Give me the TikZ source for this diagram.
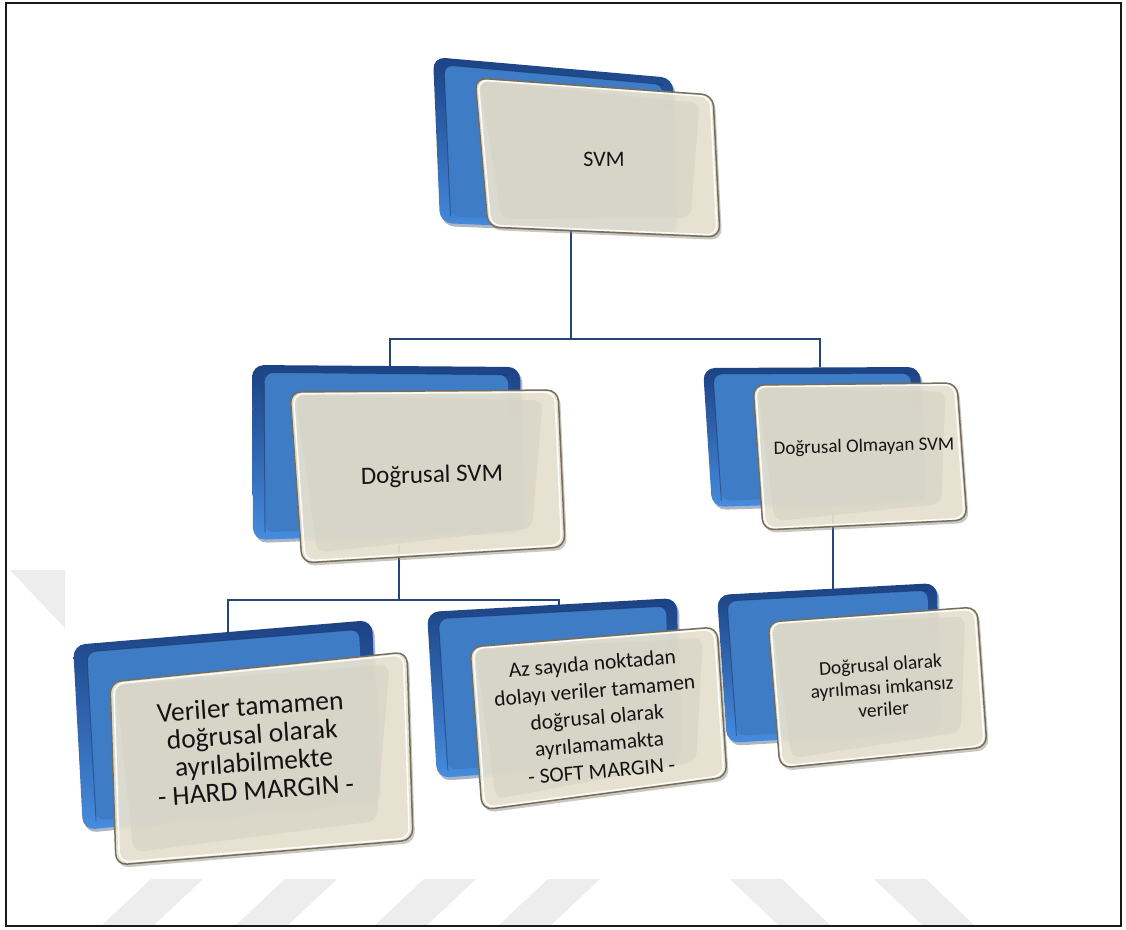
\documentclass[tikz,border=0pt]{standalone}
\usepackage{fontspec}
\setmainfont{Carlito}
\usetikzlibrary{calc}

\definecolor{wm}{RGB}{237,237,237}
\definecolor{linkblue}{RGB}{36,68,122}
\definecolor{bluetop}{RGB}{28,66,132}
\definecolor{bluebot}{RGB}{70,140,222}
\definecolor{bluemid}{RGB}{62,124,198}
\definecolor{blueshade}{RGB}{20,45,90}
\definecolor{cardlight}{RGB}{233,228,211}
\definecolor{cardmid}{RGB}{214,211,198}
\definecolor{cardedge}{RGB}{118,110,92}
\definecolor{cardshade}{RGB}{140,134,118}

\tikzset{
  link/.style={draw=linkblue, line width=1.8pt},
  lbl/.style={align=center, text=black!92, inner sep=0pt},
}

% blue back panel: four corner coordinates (TL, TR, BR, BL)
\newcommand\bluepanel[4]{%
  \fill[blueshade, opacity=0.35, rounded corners=12pt]
    ($(#1)+(2,3)$) -- ($(#2)+(2,3)$) -- ($(#3)+(2,3)$) -- ($(#4)+(2,3)$) -- cycle;
  \shade[top color=bluetop, bottom color=bluebot, rounded corners=12pt]
    (#1) -- (#2) -- (#3) -- (#4) -- cycle;
  \fill[bluemid, rounded corners=9pt]
    ($(#1)!0.045!(#3)$) -- ($(#2)!0.045!(#4)$) -- ($(#3)!0.045!(#1)$) -- ($(#4)!0.045!(#2)$) -- cycle;
  \draw[blueshade, opacity=0.45, line width=1pt, rounded corners=9pt]
    ($(#4)!0.045!(#2)$) -- ($(#1)!0.045!(#3)$) -- ($(#2)!0.045!(#4)$);
}

% tan front card: four corner coordinates (TL, TR, BR, BL)
\newcommand\tancard[4]{%
  \fill[cardshade, opacity=0.45, rounded corners=11pt]
    ($(#1)+(2,3)$) -- ($(#2)+(2,3)$) -- ($(#3)+(2,3)$) -- ($(#4)+(2,3)$) -- cycle;
  \fill[cardlight, opacity=0.9, rounded corners=11pt]
    (#1) -- (#2) -- (#3) -- (#4) -- cycle;
  \fill[cardmid, opacity=0.65, rounded corners=9pt]
    ($(#1)!0.02!(#3)$) -- ($(#2)!0.06!(#4)$) -- ($(#3)!0.12!(#1)$) -- ($(#4)!0.06!(#2)$) -- cycle;
  \draw[white, opacity=0.9, line width=1.6pt, rounded corners=10pt]
    ($(#1)!0.012!(#3)$) -- ($(#2)!0.012!(#4)$) -- ($(#3)!0.012!(#1)$) -- ($(#4)!0.012!(#2)$) -- cycle;
  \draw[cardedge, line width=1.5pt, rounded corners=11pt]
    (#1) -- (#2) -- (#3) -- (#4) -- cycle;
}

\begin{document}
\begin{tikzpicture}[x=1pt, y=-1pt]
\useasboundingbox (0,0) rectangle (1126,929);
\fill[white] (0,0) rectangle (1126,929);

% faint background stripes
\fill[wm] (10,570) -- (65,570) -- (65,628) -- cycle;
\foreach \a in {151,285,424,548}
  \fill[wm] (\a,879) -- (\a+52,879) -- (\a+3,925) -- (\a-49,925) -- cycle;
\foreach \a in {730,874}
  \fill[wm] (\a,879) -- (\a+52,879) -- (\a+100,925) -- (\a+48,925) -- cycle;

% frame
\draw[line width=2.5pt, black!90] (6,3) rectangle (1121,926);

% corner points of the panels
\coordinate (b1a) at (433,57);  \coordinate (b1b) at (673,78);
\coordinate (b1c) at (676,233); \coordinate (b1d) at (440,223);
\coordinate (c1a) at (475,78);  \coordinate (c1b) at (713,95);
\coordinate (c1c) at (720,237); \coordinate (c1d) at (488,227);

\coordinate (b2a) at (252,365); \coordinate (b2b) at (520,367);
\coordinate (b2c) at (523,530); \coordinate (b2d) at (253,540);
\coordinate (c2a) at (290,392); \coordinate (c2b) at (558,390);
\coordinate (c2c) at (565,547); \coordinate (c2d) at (302,563);

\coordinate (b3a) at (703,368); \coordinate (b3b) at (920,367);
\coordinate (b3c) at (925,500); \coordinate (b3d) at (712,507);
\coordinate (c3a) at (753,385); \coordinate (c3b) at (957,383);
\coordinate (c3c) at (967,520); \coordinate (c3d) at (763,530);

\coordinate (b4a) at (73,645);  \coordinate (b4b) at (372,620);
\coordinate (b4c) at (380,800); \coordinate (b4d) at (83,830);
\coordinate (c4a) at (110,682); \coordinate (c4b) at (407,652);
\coordinate (c4c) at (413,840); \coordinate (c4d) at (116,865);

\coordinate (b5a) at (427,612); \coordinate (b5b) at (677,598);
\coordinate (b5c) at (680,760); \coordinate (b5d) at (437,778);
\coordinate (c5a) at (470,647); \coordinate (c5b) at (717,627);
\coordinate (c5c) at (727,777); \coordinate (c5d) at (482,810);

\coordinate (b6a) at (717,595); \coordinate (b6b) at (937,583);
\coordinate (b6c) at (940,730); \coordinate (b6d) at (727,743);
\coordinate (c6a) at (768,622); \coordinate (c6b) at (977,607);
\coordinate (c6c) at (987,747); \coordinate (c6d) at (780,768);

% connector ends
\coordinate (svmout) at (571,222);
\coordinate (bus1) at (571,339);
\coordinate (linin) at (390,366);
\coordinate (nonlinin) at (820,367);
\coordinate (linout) at (399,545);
\coordinate (bus2) at (399,600);
\coordinate (hardin) at (228,632);
\coordinate (softin) at (559,605);
\coordinate (nonlinout) at (833,512);
\coordinate (sepin) at (833,589);

% connectors
\draw[link] (svmout) -- (bus1);
\draw[link] (linin) |- (bus1) -| (nonlinin);
\draw[link] (linout) -- (bus2);
\draw[link] (hardin) |- (bus2) -| (softin);
\draw[link] (nonlinout) -- (sepin);

% panels
\bluepanel{b1a}{b1b}{b1c}{b1d}
\tancard{c1a}{c1b}{c1c}{c1d}
\bluepanel{b2a}{b2b}{b2c}{b2d}
\tancard{c2a}{c2b}{c2c}{c2d}
\bluepanel{b3a}{b3b}{b3c}{b3d}
\tancard{c3a}{c3b}{c3c}{c3d}
\bluepanel{b4a}{b4b}{b4c}{b4d}
\tancard{c4a}{c4b}{c4c}{c4d}
\bluepanel{b5a}{b5b}{b5c}{b5d}
\tancard{c5a}{c5b}{c5c}{c5d}
\bluepanel{b6a}{b6b}{b6c}{b6d}
\tancard{c6a}{c6b}{c6c}{c6d}

% labels
\node[lbl, rotate=0.5, font=\fontsize{22}{26}\selectfont] (svm) at (604,159) {SVM};
\node[lbl, rotate=1.3, font=\fontsize{25}{29}\selectfont] (lin) at (432,476) {Doğrusal SVM};
\node[lbl, rotate=1.5, font=\fontsize{19}{23}\selectfont] (nonlin) at (864,447) {Doğrusal Olmayan SVM};
\node[lbl, rotate=4, font=\fontsize{27.5}{28}\selectfont] (hard) at (253,748)
  {Veriler tamamen\\doğrusal olarak\\ayrılabilmekte\\- HARD MARGIN -};
\node[lbl, rotate=5, font=\fontsize{21.5}{27}\selectfont] (soft) at (597,717)
  {Az sayıda noktadan\\dolayı veriler tamamen\\doğrusal olarak\\ayrılamamakta\\- SOFT MARGIN -};
\node[lbl, rotate=4, font=\fontsize{19.5}{22.5}\selectfont] (sep) at (882,687)
  {Doğrusal olarak\\ayrılması imkansız\\veriler};
\end{tikzpicture}
\end{document}
